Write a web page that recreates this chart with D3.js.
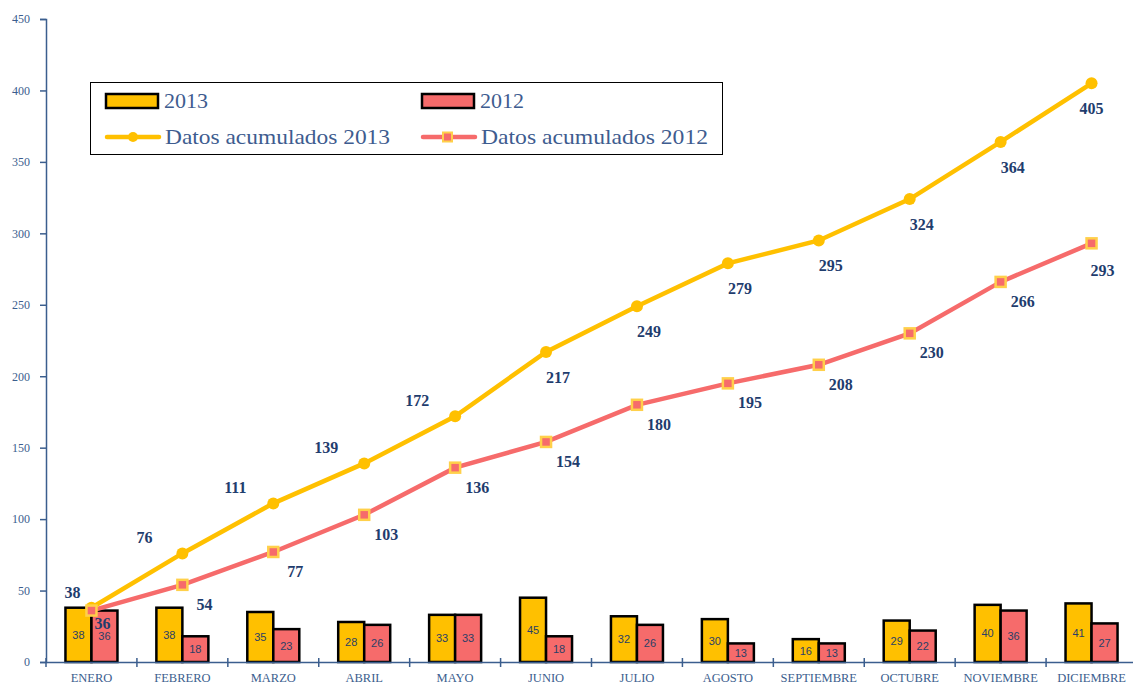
<!DOCTYPE html>
<html>
<head>
<meta charset="utf-8">
<script src="https://cdn.jsdelivr.net/npm/d3@7"></script>
<style>
  body { margin: 0; background: #fff; }
  svg { display: block; }
</style>
</head>
<body>
<script>
var months = ['ENERO', 'FEBRERO', 'MARZO', 'ABRIL', 'MAYO', 'JUNIO', 'JULIO', 'AGOSTO', 'SEPTIEMBRE', 'OCTUBRE', 'NOVIEMBRE', 'DICIEMBRE'];
var values2013 = [38, 38, 35, 28, 33, 45, 32, 30, 16, 29, 40, 41];
var values2012 = [36, 18, 23, 26, 33, 18, 26, 13, 13, 22, 36, 27];
var acum2013 = [38, 76, 111, 139, 172, 217, 249, 279, 295, 324, 364, 405];
var acum2012 = [36, 54, 77, 103, 136, 154, 180, 195, 208, 230, 266, 293];
var yTicks = [0, 50, 100, 150, 200, 250, 300, 350, 400, 450];

var W = 1133, H = 686;
var yellow = '#FFC000', red = '#F66B6B', axisColor = '#3B5E8E', labelColor = '#1F3D6E';

var svg = d3.select('body').append('svg').attr('width', W).attr('height', H);

var x = d3.scaleBand().domain(months).range([46, 1137]).padding(0);
var y = d3.scaleLinear().domain([0, 450]).range([662, 19]);
var barW = 26;

// y axis
var yAxis = d3.axisLeft(y).tickValues(yTicks).tickSize(6).tickPadding(10);
var gy = svg.append('g').attr('transform', 'translate(46,0)').call(yAxis);
gy.select('.domain').attr('stroke', axisColor).attr('stroke-width', 1.5);
gy.selectAll('.tick line').attr('stroke', axisColor).attr('stroke-width', 1.5).attr('x2', -6);
gy.selectAll('.tick text')
  .attr('fill', axisColor)
  .style('font-family', '"Liberation Serif", serif')
  .style('font-size', '12px');

// bars
var groups = svg.append('g').selectAll('g').data(months).enter().append('g')
  .attr('transform', function(d) { return 'translate(' + (x(d) + x.bandwidth() / 2) + ',0)'; });

groups.append('rect')
  .attr('x', -barW).attr('width', barW)
  .attr('y', function(d, i) { return y(values2013[i]); })
  .attr('height', function(d, i) { return y(0) - y(values2013[i]); })
  .attr('fill', yellow).attr('stroke', '#000').attr('stroke-width', 2.5);
groups.append('rect')
  .attr('x', 0).attr('width', barW)
  .attr('y', function(d, i) { return y(values2012[i]); })
  .attr('height', function(d, i) { return y(0) - y(values2012[i]); })
  .attr('fill', red).attr('stroke', '#000').attr('stroke-width', 2.5);

groups.append('text')
  .attr('x', -barW / 2)
  .attr('y', function(d, i) { return (y(values2013[i]) + y(0)) / 2 + 4; })
  .attr('text-anchor', 'middle')
  .attr('fill', '#2B3F66')
  .style('font-family', '"Liberation Sans", sans-serif').style('font-size', '11px')
  .text(function(d, i) { return values2013[i]; });
groups.append('text')
  .attr('x', barW / 2)
  .attr('y', function(d, i) { return (y(values2012[i]) + y(0)) / 2 + 4; })
  .attr('text-anchor', 'middle')
  .attr('fill', '#2B3F66')
  .style('font-family', '"Liberation Sans", sans-serif').style('font-size', '11px')
  .text(function(d, i) { return values2012[i]; });

// x axis
var xAxis = d3.axisBottom(x).tickSize(0).tickPadding(11);
var gx = svg.append('g').attr('transform', 'translate(0,' + y(0) + ')').call(xAxis);
gx.select('.domain').attr('stroke', axisColor).attr('stroke-width', 1.5);
gx.selectAll('.tick text')
  .attr('fill', axisColor)
  .style('font-family', '"Liberation Serif", serif')
  .style('font-size', '12.5px');
gx.selectAll('.sep').data(months).enter().append('line')
  .attr('x1', function(d) { return x(d); }).attr('x2', function(d) { return x(d); })
  .attr('y1', -4).attr('y2', 5)
  .attr('stroke', axisColor).attr('stroke-width', 1.5);

// lines
var cx = function(i) { return x(months[i]) + x.bandwidth() / 2; };
var line = d3.line().x(function(d, i) { return cx(i); }).y(function(d) { return y(d); });

svg.append('path').datum(acum2012).attr('d', line)
  .attr('fill', 'none').attr('stroke', red).attr('stroke-width', 4.5);
svg.append('path').datum(acum2013).attr('d', line)
  .attr('fill', 'none').attr('stroke', yellow).attr('stroke-width', 4.5);

svg.append('g').selectAll('circle').data(acum2013).enter().append('circle')
  .attr('cx', function(d, i) { return cx(i); }).attr('cy', function(d) { return y(d); })
  .attr('r', 6).attr('fill', yellow);
svg.append('g').selectAll('rect').data(acum2012).enter().append('rect')
  .attr('x', function(d, i) { return cx(i) - 5; }).attr('y', function(d) { return y(d) - 5; })
  .attr('width', 10).attr('height', 10)
  .attr('fill', red).attr('stroke', '#FFD04A').attr('stroke-width', 2.5);

// data labels
svg.append('g').selectAll('text').data(acum2013).enter().append('text')
  .attr('x', function(d, i) { return cx(i) + (i === 0 ? -19 : i < 5 ? -38 : i === 11 ? 0 : 12); })
  .attr('y', function(d, i) { return y(d) + (i < 5 ? -10 : 31); })
  .attr('text-anchor', 'middle')
  .attr('fill', labelColor)
  .style('font-family', '"Liberation Serif", serif').style('font-size', '16px').style('font-weight', 'bold')
  .text(function(d) { return d; });
svg.append('g').selectAll('text').data(acum2012).enter().append('text')
  .attr('x', function(d, i) { return cx(i) + (i === 0 ? 11 : i === 11 ? 11 : 22); })
  .attr('y', function(d, i) { return y(d) + (i === 0 ? 18 : i === 11 ? 33 : 25); })
  .attr('text-anchor', 'middle')
  .attr('fill', labelColor)
  .style('font-family', '"Liberation Serif", serif').style('font-size', '16px').style('font-weight', 'bold')
  .text(function(d) { return d; });

// legend
var legend = svg.append('g');
legend.append('rect').attr('x', 90.5).attr('y', 82.5).attr('width', 632).attr('height', 72)
  .attr('fill', '#fff').attr('stroke', '#000').attr('stroke-width', 1);

var legendItems = [
  { label: '2013', kind: 'bar', color: yellow, lx: 106, ly: 101, tl: 44 },
  { label: '2012', kind: 'bar', color: red, lx: 422, ly: 101, tl: 44 },
  { label: 'Datos acumulados 2013', kind: 'line', color: yellow, lx: 106, ly: 137, tl: 225 },
  { label: 'Datos acumulados 2012', kind: 'line', color: red, lx: 422, ly: 137, tl: 227 }
];
legendItems.forEach(function(d) {
  var g = legend.append('g').attr('transform', 'translate(' + d.lx + ',' + d.ly + ')');
  if (d.kind === 'bar') {
    g.append('rect').attr('x', 0).attr('y', -7).attr('width', 52).attr('height', 14)
      .attr('fill', d.color).attr('stroke', '#000').attr('stroke-width', 2.5);
  } else {
    g.append('line').attr('x1', 1).attr('x2', 53).attr('y1', 0).attr('y2', 0)
      .attr('stroke', d.color).attr('stroke-width', 4.5).attr('stroke-linecap', 'round');
    if (d.color === yellow) {
      g.append('circle').attr('cx', 27).attr('cy', 0).attr('r', 5).attr('fill', yellow);
    } else {
      g.append('rect').attr('x', 21).attr('y', -4.5).attr('width', 9).attr('height', 9)
        .attr('fill', red).attr('stroke', '#FFD04A').attr('stroke-width', 2);
    }
  }
  g.append('text').attr('x', d.kind === 'bar' ? 58 : 59).attr('y', d.kind === 'bar' ? 7 : 6.5)
    .attr('fill', '#3E5C8F')
    .style('font-family', '"Liberation Serif", serif').style('font-size', '22px')
    .attr('textLength', d.tl).attr('lengthAdjust', 'spacingAndGlyphs')
    .text(d.label);
});
</script>
</body>
</html>
